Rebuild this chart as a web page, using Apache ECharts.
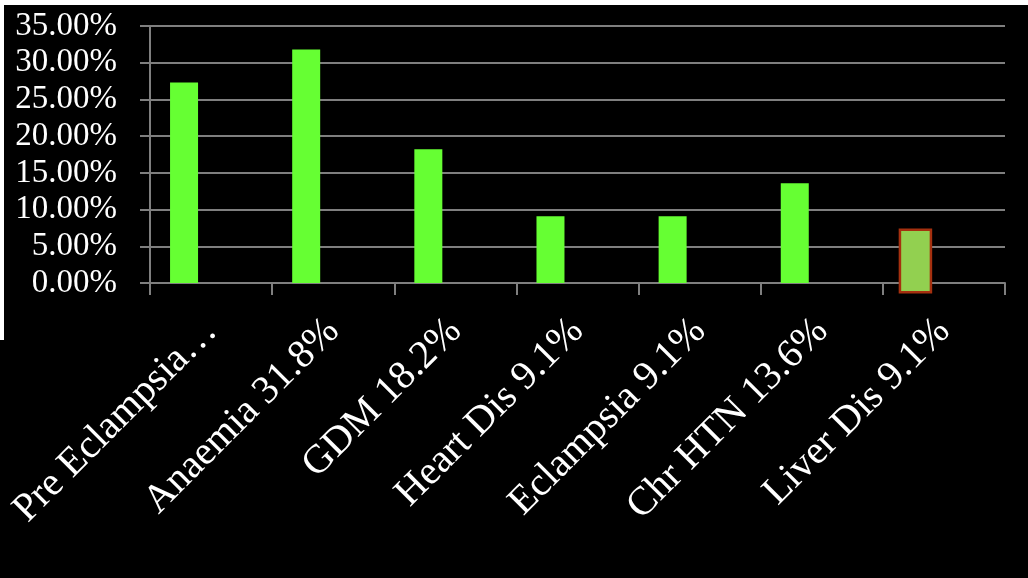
<!DOCTYPE html>
<html>
<head>
<meta charset="utf-8">
<style>
html,body{margin:0;padding:0;background:#000;}
#chart{width:1028px;height:578px;}
</style>
<script src="https://cdn.jsdelivr.net/npm/echarts@6/dist/echarts.min.js"></script>
</head>
<body>
<div id="chart"></div>
<script>
// Data
const categories = ['Pre Eclampsia…', 'Anaemia 31.8%', 'GDM 18.2%', 'Heart Dis 9.1%', 'Eclampsia 9.1%', 'Chr HTN 13.6%', 'Liver Dis 9.1%'];
const values = [0.273, 0.318, 0.182, 0.091, 0.091, 0.136, null];
// The last bar is drawn as a separate box (low / high edge as shown)
const liverLow = -0.0125;
const liverHigh = 0.0725;
const liverIndex = 6;
const yTicks = { min: 0, max: 0.35, interval: 0.05 };

const chart = echarts.init(document.getElementById('chart'), null, { renderer: 'canvas' });
const serif = '"Liberation Serif", "DejaVu Serif", serif';
const gridColor = '#7f7f7f';

chart.setOption({
  backgroundColor: '#000000',
  animation: false,
  grid: { left: 150, right: 23, top: 26, bottom: 295, containLabel: false },
  graphic: [
    { type: 'rect', left: 0, top: 0, shape: { width: 1028, height: 5 }, style: { fill: '#ffffff' }, z: 100 },
    { type: 'rect', left: 0, top: 0, shape: { width: 4, height: 340 }, style: { fill: '#ffffff' }, z: 100 }
  ],
  xAxis: {
    type: 'category',
    data: categories,
    boundaryGap: true,
    axisLine: { show: true, lineStyle: { color: gridColor, width: 2 } },
    axisTick: { show: true, length: 12, lineStyle: { color: gridColor, width: 2 }, alignWithLabel: false },
    axisLabel: {
      interval: 0,
      rotate: 45,
      color: '#ffffff',
      fontFamily: serif,
      fontSize: 40,
      margin: 42,
      verticalAlign: 'middle'
    },
    splitLine: { show: false }
  },
  yAxis: {
    type: 'value',
    min: yTicks.min,
    max: yTicks.max,
    interval: yTicks.interval,
    axisLine: { show: true, lineStyle: { color: gridColor, width: 2 } },
    axisTick: { show: true, length: 10, lineStyle: { color: gridColor, width: 2 } },
    splitLine: { show: true, lineStyle: { color: gridColor, width: 2 } },
    axisLabel: {
      color: '#ffffff',
      fontFamily: serif,
      fontSize: 33,
      margin: 33,
      formatter: v => (v * 100).toFixed(2) + '%'
    }
  },
  series: [
    {
      type: 'bar',
      data: values,
      barWidth: 28,
      barGap: '93%',
      itemStyle: { color: '#66ff33' },
      z: 3
    },
    {
      type: 'bar',
      data: categories.map(() => null),
      barWidth: 28
    },
    {
      type: 'custom',
      clip: false,
      data: [[liverIndex, liverLow, liverHigh]],
      renderItem: function (params, api) {
        const top = api.coord([api.value(0), api.value(2)]);
        const bot = api.coord([api.value(0), api.value(1)]);
        const cx = top[0] - 28.5;
        const w = 31;
        return {
          type: 'rect',
          shape: { x: cx - w / 2, y: top[1], width: w, height: bot[1] - top[1] },
          style: { fill: '#92d050', stroke: '#a5300f', lineWidth: 2.5 }
        };
      },
      z: 4
    }
  ]
});
</script>
</body>
</html>
